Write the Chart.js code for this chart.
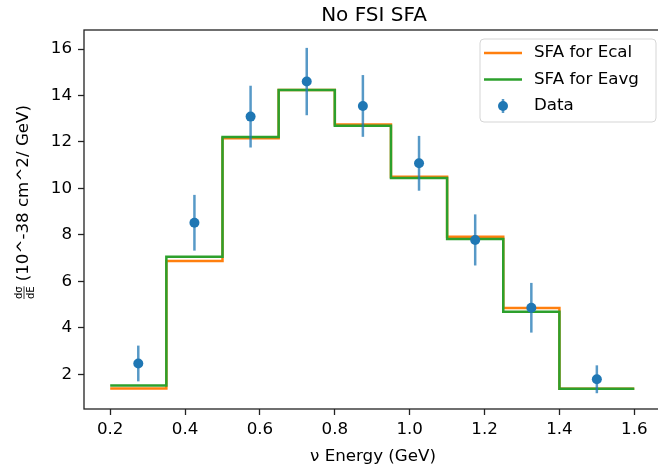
<!DOCTYPE html>
<html>
<head>
<meta charset="utf-8">
<script src="https://cdn.jsdelivr.net/npm/chart.js@4"></script>
<style>
  html, body { margin: 0; padding: 0; background: #fff; overflow: hidden; }
  #wrap { width: 658px; height: 476px; }
</style>
</head>
<body>
<div id="wrap"><canvas id="chart" width="658" height="476"></canvas></div>
<script>
// Data
const binEdges = [0.2, 0.35, 0.5, 0.65, 0.8, 0.95, 1.1, 1.25, 1.4, 1.6];
const sfaEcal = [1.38, 6.87, 12.16, 14.24, 12.75, 10.5, 7.92, 4.85, 1.37];
const sfaEavg = [1.51, 7.06, 12.21, 14.24, 12.7, 10.45, 7.82, 4.69, 1.37];
const dataX = [0.275, 0.425, 0.575, 0.725, 0.875, 1.025, 1.175, 1.325, 1.5];
const dataY = [2.46, 8.52, 13.09, 14.6, 13.55, 11.08, 7.78, 4.86, 1.78];
const dataErr = [0.77, 1.2, 1.33, 1.45, 1.33, 1.18, 1.1, 1.07, 0.6];
const xTicks = [0.2, 0.4, 0.6, 0.8, 1.0, 1.2, 1.4, 1.6];
const yTicks = [2, 4, 6, 8, 10, 12, 14, 16];

const FONT = '"DejaVu Sans", sans-serif';
const BLUE = '#1f77b4', ORANGE = '#ff7f0e', GREEN = '#2ca02c';
const ERR = 'rgba(31,119,180,0.75)';

// step points: one per bin edge, last value repeated at the final edge
function stepPoints(vals) {
  return binEdges.map((x, i) => ({ x: x, y: vals[Math.min(i, vals.length - 1)] }));
}

const mplLook = {
  id: 'mplLook',
  beforeDatasetDraw(chart, args) {
    if (args.index !== 2) return;
    // error bars under the data markers
    const ctx = chart.ctx, xs = chart.scales.x, ys = chart.scales.y;
    ctx.save();
    ctx.strokeStyle = ERR;
    ctx.lineWidth = 2.5;
    dataX.forEach((x, i) => {
      const px = xs.getPixelForValue(x);
      ctx.beginPath();
      ctx.moveTo(px, ys.getPixelForValue(dataY[i] - dataErr[i]));
      ctx.lineTo(px, ys.getPixelForValue(dataY[i] + dataErr[i]));
      ctx.stroke();
    });
    ctx.restore();
  },
  afterDraw(chart) {
    const ctx = chart.ctx, a = chart.chartArea;
    ctx.save();
    // spines (right one falls outside the picture)
    ctx.strokeStyle = '#222';
    ctx.lineWidth = 1.3;
    ctx.strokeRect(a.left, a.top, a.right - a.left + 20, a.bottom - a.top);

    // title
    ctx.fillStyle = '#000';
    ctx.font = '20px ' + FONT;
    ctx.textAlign = 'center';
    ctx.textBaseline = 'alphabetic';
    ctx.fillText('No FSI SFA', 374, 21);

    // x label
    ctx.font = '16.7px ' + FONT;
    ctx.textBaseline = 'middle';
    ctx.fillText('\u03bd Energy (GeV)', 373, 457);

    // y label with small fraction
    ctx.save();
    ctx.translate(24, 202);
    ctx.rotate(-Math.PI / 2);
    const main = '(10^-38 cm^2/ GeV)';
    ctx.font = '16.7px ' + FONT;
    const mainW = ctx.measureText(main).width;
    ctx.font = '10px ' + FONT;
    const fracW = Math.max(ctx.measureText('d\u03c3').width, ctx.measureText('dE').width);
    const total = fracW + 5 + mainW;
    const x0 = -total / 2;
    ctx.textAlign = 'center';
    ctx.textBaseline = 'alphabetic';
    ctx.fillText('d\u03c3', x0 + fracW / 2, -2);
    ctx.textBaseline = 'top';
    ctx.fillText('dE', x0 + fracW / 2, 2);
    ctx.lineWidth = 0.8;
    ctx.strokeStyle = '#000';
    ctx.beginPath();
    ctx.moveTo(x0, 0);
    ctx.lineTo(x0 + fracW, 0);
    ctx.stroke();
    ctx.font = '16.7px ' + FONT;
    ctx.textAlign = 'left';
    ctx.textBaseline = 'middle';
    ctx.fillText(main, x0 + fracW + 5, 0);
    ctx.restore();

    // legend
    const lx = 480, ly = 39, lw = 176, lh = 83, r = 4;
    ctx.fillStyle = 'rgba(255,255,255,0.8)';
    ctx.strokeStyle = '#d5d5d5';
    ctx.lineWidth = 1;
    ctx.beginPath();
    ctx.moveTo(lx + r, ly);
    ctx.arcTo(lx + lw, ly, lx + lw, ly + lh, r);
    ctx.arcTo(lx + lw, ly + lh, lx, ly + lh, r);
    ctx.arcTo(lx, ly + lh, lx, ly, r);
    ctx.arcTo(lx, ly, lx + lw, ly, r);
    ctx.closePath();
    ctx.fill();
    ctx.stroke();

    const rows = [
      { label: 'SFA for Ecal', color: ORANGE, y: 53 },
      { label: 'SFA for Eavg', color: GREEN, y: 79.5 },
      { label: 'Data', color: BLUE, y: 106, marker: true }
    ];
    ctx.font = '16.7px ' + FONT;
    ctx.textAlign = 'left';
    ctx.textBaseline = 'middle';
    rows.forEach(row => {
      if (row.marker) {
        ctx.strokeStyle = ERR;
        ctx.lineWidth = 2.5;
        ctx.beginPath();
        ctx.moveTo(503, row.y - 7);
        ctx.lineTo(503, row.y + 7);
        ctx.stroke();
        ctx.fillStyle = BLUE;
        ctx.beginPath();
        ctx.arc(503, row.y, 5, 0, Math.PI * 2);
        ctx.fill();
      } else {
        ctx.strokeStyle = row.color;
        ctx.lineWidth = 2.5;
        ctx.beginPath();
        ctx.moveTo(484, row.y);
        ctx.lineTo(522, row.y);
        ctx.stroke();
      }
      ctx.fillStyle = '#000';
      ctx.fillText(row.label, 534, row.y);
    });
    ctx.restore();
  }
};

const ctx = document.getElementById('chart').getContext('2d');
const chart = new Chart(ctx, {
  type: 'line',
  data: {
    datasets: [
      {
        label: 'SFA for Ecal',
        data: stepPoints(sfaEcal),
        borderColor: ORANGE,
        borderWidth: 2.5,
        stepped: true,
        pointRadius: 0,
        fill: false,
        order: 3
      },
      {
        label: 'SFA for Eavg',
        data: stepPoints(sfaEavg),
        borderColor: GREEN,
        borderWidth: 2.5,
        stepped: true,
        pointRadius: 0,
        fill: false,
        order: 2
      },
      {
        label: 'Data',
        data: dataX.map((x, i) => ({ x: x, y: dataY[i] })),
        showLine: false,
        pointRadius: 5,
        pointBackgroundColor: BLUE,
        pointBorderWidth: 0,
        borderColor: BLUE,
        order: 1
      }
    ]
  },
  options: {
    responsive: false,
    animation: false,
    devicePixelRatio: 1,
    layout: { padding: { top: 30, left: 0, right: 0, bottom: 0 } },
    plugins: {
      legend: { display: false },
      tooltip: { enabled: false }
    },
    scales: {
      x: {
        type: 'linear',
        min: 0.13,
        max: 1.65,
        afterBuildTicks: s => { s.ticks = xTicks.map(v => ({ value: v })); },
        afterFit: s => { s.height = 67; s.paddingLeft = 0; s.paddingRight = 0; },
        ticks: {
          callback: v => v.toFixed(1),
          font: { family: FONT, size: 16.7 },
          color: '#000',
          padding: 5,
          maxRotation: 0
        },
        grid: { drawOnChartArea: false, tickLength: 6, tickColor: '#222', tickWidth: 1.3 },
        border: { display: false }
      },
      y: {
        min: 0.5,
        max: 16.82,
        afterBuildTicks: s => { s.ticks = yTicks.map(v => ({ value: v })); },
        afterFit: s => { s.width = 84; s.paddingTop = 0; s.paddingBottom = 0; },
        ticks: {
          font: { family: FONT, size: 16.7 },
          color: '#000',
          padding: 6
        },
        grid: { drawOnChartArea: false, tickLength: 6, tickColor: '#222', tickWidth: 1.3 },
        border: { display: false }
      }
    }
  },
  plugins: [mplLook]
});
</script>
</body>
</html>
